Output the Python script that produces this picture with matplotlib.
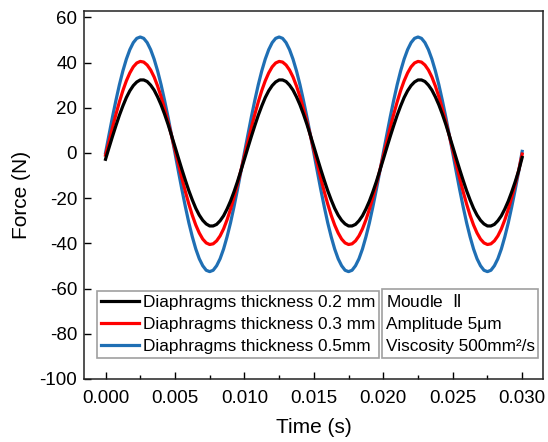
import matplotlib
matplotlib.use("Agg")
import matplotlib.pyplot as plt
from matplotlib.lines import Line2D

plt.rcParams['font.family'] = ['Liberation Sans', 'DejaVu Sans']
plt.rcParams['axes.unicode_minus'] = False
plt.rcParams['mathtext.fontset'] = 'custom'
plt.rcParams['mathtext.rm'] = 'Noto Sans CJK SC'

# time samples (s), step 0.00025 s
time = [round(i * 0.00025, 5) for i in range(121)]

force_02 = [
    -2.8, 2.3, 7.3, 12.1, 16.7, 20.8, 24.5, 27.5, 29.8, 31.4, 32.3, 32.3, 31.6, 30.0, 27.8, 24.8, 21.3, 17.2, 12.7, 7.8,
    2.8, -2.3, -7.3, -12.1, -16.7, -20.8, -24.5, -27.5, -29.8, -31.4, -32.3, -32.3, -31.6, -30.0, -27.8, -24.8, -21.3, -17.2, -12.7, -7.8,
    -2.8, 2.3, 7.3, 12.1, 16.7, 20.8, 24.5, 27.5, 29.8, 31.4, 32.3, 32.3, 31.6, 30.0, 27.8, 24.8, 21.3, 17.2, 12.7, 7.8,
    2.8, -2.3, -7.3, -12.1, -16.7, -20.8, -24.5, -27.5, -29.8, -31.4, -32.3, -32.3, -31.6, -30.0, -27.8, -24.8, -21.3, -17.2, -12.7, -7.8,
    -2.8, 2.3, 7.3, 12.1, 16.7, 20.8, 24.5, 27.5, 29.8, 31.4, 32.3, 32.3, 31.6, 30.0, 27.8, 24.8, 21.3, 17.2, 12.7, 7.8,
    2.8, -2.3, -7.3, -12.1, -16.7, -20.8, -24.5, -27.5, -29.8, -31.4, -32.3, -32.3, -31.6, -30.0, -27.8, -24.8, -21.3, -17.2, -12.7, -7.8,
    -2.0,
]

force_03 = [
    -1.0, 4.9, 11.2, 17.1, 22.6, 27.6, 31.9, 35.4, 38.1, 39.8, 40.5, 40.2, 38.9, 36.7, 33.6, 29.6, 24.9, 19.6, 13.9, 7.7,
    1.4, -4.9, -11.2, -17.1, -22.6, -27.6, -31.9, -35.4, -38.1, -39.8, -40.5, -40.2, -38.9, -36.7, -33.6, -29.6, -24.9, -19.6, -13.9, -7.7,
    -1.4, 4.9, 11.2, 17.1, 22.6, 27.6, 31.9, 35.4, 38.1, 39.8, 40.5, 40.2, 38.9, 36.7, 33.6, 29.6, 24.9, 19.6, 13.9, 7.7,
    1.4, -4.9, -11.2, -17.1, -22.6, -27.6, -31.9, -35.4, -38.1, -39.8, -40.5, -40.2, -38.9, -36.7, -33.6, -29.6, -24.9, -19.6, -13.9, -7.7,
    -1.4, 4.9, 11.2, 17.1, 22.6, 27.6, 31.9, 35.4, 38.1, 39.8, 40.5, 40.2, 38.9, 36.7, 33.6, 29.6, 24.9, 19.6, 13.9, 7.7,
    1.4, -4.9, -11.2, -17.1, -22.6, -27.6, -31.9, -35.4, -38.1, -39.8, -40.5, -40.2, -38.9, -36.7, -33.6, -29.6, -24.9, -19.6, -13.9, -7.7,
    -0.5,
]

force_05 = [
    0.0, 8.0, 15.9, 23.3, 30.2, 36.3, 41.5, 45.7, 48.8, 50.7, 51.3, 50.7, 48.8, 45.7, 41.5, 36.3, 30.2, 23.3, 15.9, 8.0,
    0.0, -8.2, -16.2, -23.8, -30.9, -37.1, -42.5, -46.8, -49.9, -51.9, -52.5, -51.9, -49.9, -46.8, -42.5, -37.1, -30.9, -23.8, -16.2, -8.2,
    0.0, 8.0, 15.9, 23.3, 30.2, 36.3, 41.5, 45.7, 48.8, 50.7, 51.3, 50.7, 48.8, 45.7, 41.5, 36.3, 30.2, 23.3, 15.9, 8.0,
    0.0, -8.2, -16.2, -23.8, -30.9, -37.1, -42.5, -46.8, -49.9, -51.9, -52.5, -51.9, -49.9, -46.8, -42.5, -37.1, -30.9, -23.8, -16.2, -8.2,
    0.0, 8.0, 15.9, 23.3, 30.2, 36.3, 41.5, 45.7, 48.8, 50.7, 51.3, 50.7, 48.8, 45.7, 41.5, 36.3, 30.2, 23.3, 15.9, 8.0,
    0.0, -8.2, -16.2, -23.8, -30.9, -37.1, -42.5, -46.8, -49.9, -51.9, -52.5, -51.9, -49.9, -46.8, -42.5, -37.1, -30.9, -23.8, -16.2, -8.2,
    0.7,
]

series_labels = ["Diaphragms thickness 0.2 mm", "Diaphragms thickness 0.3 mm", "Diaphragms thickness 0.5mm"]
series_colors = ["#000000", "#ff0000", "#1f6fb4"]
info_lines = ["Moudle  $\\mathrm{\u2161}$", "Amplitude 5\u03bcm", "Viscosity 500mm\u00b2/s"]
xticks = [0.000, 0.005, 0.010, 0.015, 0.020, 0.025, 0.030]
yticks = [-100, -80, -60, -40, -20, 0, 20, 40, 60]

fig = plt.figure(figsize=(5.48, 4.42), dpi=100)
ax = fig.add_axes([84 / 548, 1 - 379 / 442, (543 - 84) / 548, (379 - 11) / 442])

lw = 2.3
h5, = ax.plot(time, force_05, color=series_colors[2], lw=lw)
h3, = ax.plot(time, force_03, color=series_colors[1], lw=lw)
h2, = ax.plot(time, force_02, color=series_colors[0], lw=lw)

ax.set_xlim(-0.00155, 0.0315)
ax.set_ylim(-100, 62.8)
ax.set_xticks(xticks)
ax.set_xticklabels([f"{v:.3f}" for v in xticks])
ax.set_xticks([0.0025, 0.0075, 0.0125, 0.0175, 0.0225, 0.0275], minor=True)
ax.set_yticks(yticks)

ax.tick_params(axis='both', which='major', direction='in', length=5, width=1, labelsize=13.5, top=False, right=False)
ax.tick_params(axis='both', which='minor', direction='in', length=3, width=1, top=False, right=False)
ax.tick_params(axis='x', which='major', pad=8)
ax.tick_params(axis='y', which='major', pad=5)
for s in ax.spines.values():
    s.set_linewidth(1.1)
    s.set_color('#222222')

ax.set_xlabel("Time (s)", fontsize=15, labelpad=8)
ax.set_ylabel("Force (N)", fontsize=15, labelpad=6)

fs = 12.4
leg1 = ax.legend([h2, h3, h5], series_labels, loc='lower left', bbox_to_anchor=(0.028, 0.058),
                 frameon=True, fancybox=False, edgecolor='#888888', fontsize=fs,
                 handlelength=2.22, handletextpad=0.25, borderpad=0.22, labelspacing=0.4,
                 borderaxespad=0)
leg1.get_frame().set_linewidth(1.2)
ax.add_artist(leg1)

dummy = [Line2D([], [], alpha=0) for _ in info_lines]
leg2 = ax.legend(dummy, info_lines, loc='lower left', bbox_to_anchor=(0.649, 0.058),
                 frameon=True, fancybox=False, edgecolor='#888888', fontsize=fs,
                 handlelength=0, handletextpad=0, borderpad=0.22, labelspacing=0.4,
                 borderaxespad=0)
leg2.get_frame().set_linewidth(1.2)

fig.savefig("out.png", dpi=100)
